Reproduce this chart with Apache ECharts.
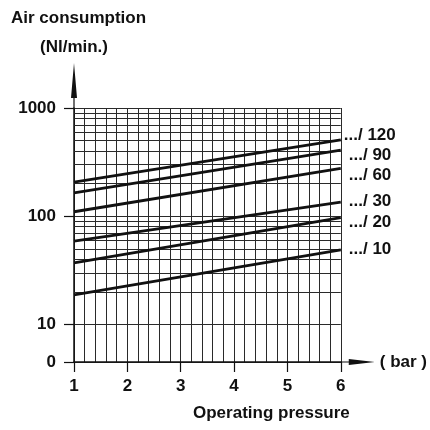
<!DOCTYPE html>
<html>
<head>
<meta charset="utf-8">
<script src="https://cdn.jsdelivr.net/npm/echarts@6/dist/echarts.min.js"></script>
<style>
  html, body { margin: 0; background: #fff; }
  #chart { width: 430px; height: 430px; }
</style>
</head>
<body>
<div id="chart"></div>
<script>
// operating pressure (bar) at the two ends of each line
var pressure = [1, 6];

var lineNames = ['.../ 120', '.../ 90', '.../ 60', '.../ 30', '.../ 20', '.../ 10'];

// air consumption (Nl/min) at 1 bar and 6 bar
var flow120 = [207, 507];
var flow90 = [164, 409];
var flow60 = [110, 277];
var flow30 = [59, 135];
var flow20 = [37, 97];
var flow10 = [18.8, 49];

// log grid between the decades
var minorLevels = [20, 30, 40, 50, 60, 70, 80, 90, 200, 300, 400, 500, 600, 700, 800, 900];

var flows = [flow120, flow90, flow60, flow30, flow20, flow10];
// end label nudges [dx, dy]
var labelNudge = [[3, -5], [8, 5], [8, 7], [8, -1], [8, 5], [8, 0]];

var font = 'Liberation Sans, Arial, Helvetica, sans-serif';
var txt = { color: '#111', fontFamily: font, fontWeight: 'bold', fontSize: 17 };
var gridColor = '#2a2a2a';

var chart = echarts.init(document.getElementById('chart'));

var series = lineNames.map(function (name, i) {
  var s = {
    name: name,
    type: 'line',
    data: pressure.map(function (p, j) { return [p, flows[i][j]]; }),
    symbol: 'none',
    silent: true,
    lineStyle: { color: '#111', width: 2.8 },
    endLabel: {
      show: true,
      formatter: '{a}',
      distance: 0,
      offset: labelNudge[i],
      color: '#111',
      fontFamily: font,
      fontWeight: 'bold',
      fontSize: 17
    }
  };
  if (i === 0) {
    s.markLine = {
      silent: true,
      symbol: 'none',
      z: 1,
      label: { show: false },
      lineStyle: { color: gridColor, width: 1, type: 'solid' },
      data: minorLevels.map(function (v) { return { yAxis: v }; })
    };
  }
  return s;
});

var option = {
  animation: false,
  title: [
    { text: 'Air consumption', left: 6, top: 5, textStyle: txt },
    { text: 'Operating pressure', left: 188, top: 400, textStyle: txt }
  ],
  grid: { left: 74, right: 86, top: 108, bottom: 68 },
  xAxis: {
    type: 'value',
    min: 1,
    max: 6,
    interval: 1,
    name: '( bar )',
    nameLocation: 'end',
    nameGap: 39,
    nameTextStyle: txt,
    axisLine: {
      onZero: false,
      lineStyle: { color: '#111', width: 1.5 },
      symbol: ['none', 'path://M3 0 L6 26 L3.6 26 L3.6 34 L2.4 34 L2.4 26 L0 26 Z'],
      symbolSize: [6, 34],
      symbolOffset: [0, 17]
    },
    axisTick: { show: true, length: 10, lineStyle: { color: '#111', width: 1.2 } },
    axisLabel: Object.assign({ margin: 16 }, txt),
    splitLine: { show: true, lineStyle: { color: gridColor, width: 1 } },
    minorTick: { show: false, splitNumber: 5, length: 0 },
    minorSplitLine: { show: true, lineStyle: { color: gridColor, width: 1 } }
  },
  yAxis: {
    type: 'log',
    logBase: 10,
    min: 4.5,
    max: 1000,
    name: '(Nl/min.)',
    nameLocation: 'end',
    nameGap: 52,
    nameTextStyle: txt,
    axisLine: {
      lineStyle: { color: '#111', width: 1.5 },
      symbol: ['none', 'path://M3 0 L6 35 L3.6 35 L3.6 45 L2.4 45 L2.4 35 L0 35 Z'],
      symbolSize: [6, 45],
      symbolOffset: [0, 22.5]
    },
    axisTick: { show: true, length: 10, lineStyle: { color: '#111', width: 1.2 } },
    axisLabel: Object.assign({
      margin: 18,
      formatter: function (v) { return v < 9 ? '0' : String(Math.round(v)); }
    }, txt),
    splitLine: { show: true, lineStyle: { color: gridColor, width: 1 } }
  },
  series: series
};

chart.setOption(option);
</script>
</body>
</html>
